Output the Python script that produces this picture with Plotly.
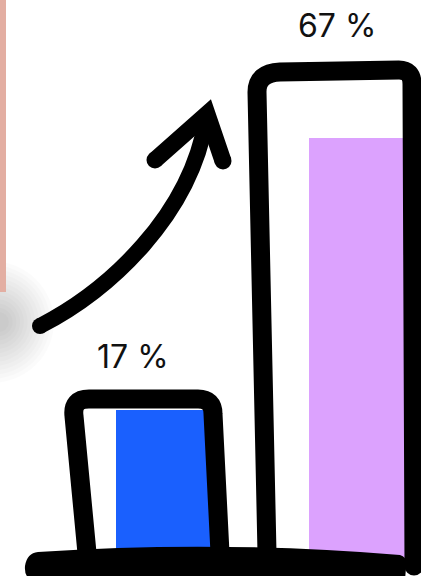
import math
import plotly.graph_objects as go

# ---- data ----
categories = ["Before", "After"]
values = [17, 67]
labels = ["17 %", "67 %"]
bar_colors = ["#1A60FE", "#DCA2FE"]

W, H = 421, 576

def pt(x, y):
    return f"{x / W:.5f},{1 - y / H:.5f}"

def path(cmds):
    out = []
    for c, pts in cmds:
        if c == "Z":
            out.append("Z")
        else:
            out.append(c + " " + " ".join(pt(x, y) for x, y in pts))
    return " ".join(out)

fig = go.Figure()
fig.add_trace(go.Bar(
    x=categories, y=values, width=0.5,
    marker=dict(color=bar_colors, line=dict(width=0)),
    hoverinfo="skip", showlegend=False,
))

shapes = []
# soft shadow at left
for i in range(13):
    r = 72 - i * 5
    shapes.append(dict(type="circle", xref="paper", yref="paper",
                       x0=(-r) / W, x1=(r * 0.75) / W,
                       y0=1 - (322 + r * 0.85) / H, y1=1 - (322 - r * 0.85) / H,
                       fillcolor="rgba(0,0,0,0.016)", line=dict(width=0), layer="below"))
# background: pink strip on left
shapes.append(dict(type="rect", xref="paper", yref="paper", x0=0, x1=6 / W,
                   y0=1 - 292 / H, y1=1, fillcolor="#E3AEA2", line=dict(width=0), layer="below"))

black = "#000000"
# small outline
shapes.append(dict(type="path", xref="paper", yref="paper", line=dict(color=black, width=19),
                   path=path([("M", [(87, 553)]), ("L", [(74, 416)]), ("Q", [(72, 399), (89, 399)]),
                              ("L", [(198, 399)]), ("Q", [(213, 399), (213, 414)]), ("L", [(220, 553)])])))
# big outline
shapes.append(dict(type="path", xref="paper", yref="paper", line=dict(color=black, width=19),
                   path=path([("M", [(267, 553)]), ("L", [(257, 92)]), ("Q", [(257, 73), (280, 72)]),
                              ("L", [(399, 70)]), ("Q", [(412, 70), (412, 84)]), ("L", [(414, 566)])])))
shapes.append(dict(type="circle", xref="paper", yref="paper", x0=(414 - 9.5) / W, x1=(414 + 9.5) / W,
                   y0=1 - (566 + 9.5) / H, y1=1 - (566 - 9.5) / H, fillcolor=black, line=dict(width=0)))
# ground line (filled)
shapes.append(dict(type="path", xref="paper", yref="paper", fillcolor=black, line=dict(width=0),
                   path=path([("M", [(38, 552)]), ("Q", [(217, 540), (400, 555)]),
                              ("Q", [(408, 557), (406, 568)]), ("L", [(405, 580)]),
                              ("L", [(33, 580)]), ("Q", [(24, 578), (25, 566)]),
                              ("Q", [(27, 553), (38, 552)]), ("Z", [])])))
# arrow
shapes.append(dict(type="path", xref="paper", yref="paper", line=dict(color=black, width=16),
                   path=path([("M", [(40, 326)]), ("C", [(110, 290), (190, 215), (206, 120)])])))
shapes.append(dict(type="path", xref="paper", yref="paper", line=dict(color=black, width=17),
                   path=path([("M", [(155, 160)]), ("L", [(207, 114)]), ("L", [(223, 161)])])))
for (cx, cy, r) in [(40, 326, 8), (155, 160, 8.5), (223, 161, 8.5), (207, 114, 6)]:
    shapes.append(dict(type="circle", xref="paper", yref="paper", x0=(cx - r) / W, x1=(cx + r) / W,
                       y0=1 - (cy + r) / H, y1=1 - (cy - r) / H, fillcolor=black, line=dict(width=0)))

annotations = []
for lab, (cx, cy) in zip(labels, [(133, 356), (337, 25)]):
    annotations.append(dict(text=lab, xref="paper", yref="paper", x=cx / W, y=1 - cy / H,
                            xanchor="center", yanchor="middle", showarrow=False,
                            font=dict(family="Inter", size=32, color="#111111")))

# log y scale: value 17 -> pixel 410, value 67 -> pixel 138 (bars rise from the bottom edge)
b = (410 - 138) / (math.log10(67) - math.log10(17))
y_lo = math.log10(17) - (H - 410) / b
y_hi = math.log10(17) + 410 / b
fig.update_layout(
    width=W, height=H, autosize=False,
    margin=dict(l=0, r=0, t=0, b=0, pad=0),
    paper_bgcolor="white", plot_bgcolor="rgba(0,0,0,0)",
    showlegend=False, bargap=0,
    xaxis=dict(visible=False, range=[-164.5 / 192.5, (W - 164.5) / 192.5], fixedrange=True),
    yaxis=dict(visible=False, type="log", range=[y_lo, y_hi], fixedrange=True),
    shapes=shapes, annotations=annotations,
)
fig.write_html("out.html", config={"displayModeBar": False},
               post_script="document.body.style.margin='0px';document.body.style.overflow='hidden';")
